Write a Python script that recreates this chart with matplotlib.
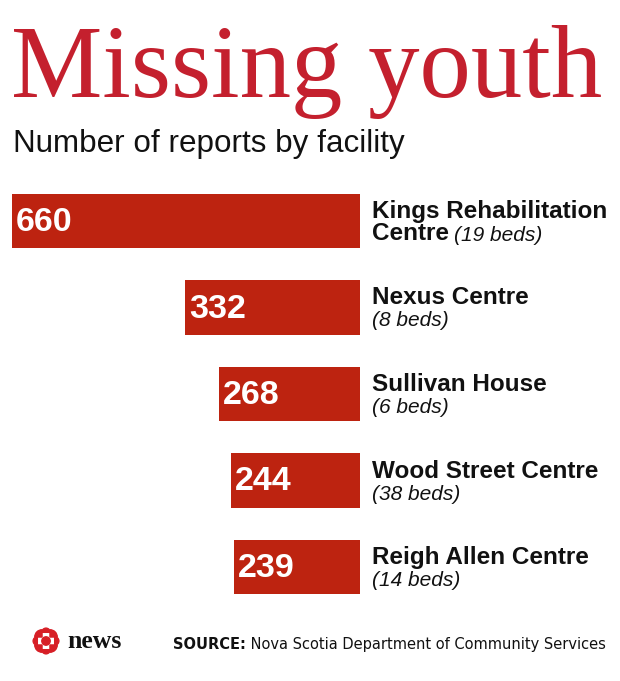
import math
import matplotlib
matplotlib.use("Agg")
import matplotlib.pyplot as plt
from matplotlib.patches import Circle, Wedge
from matplotlib.text import Annotation

# chart data
facilities = ["Kings Rehabilitation\nCentre", "Nexus Centre", "Sullivan House",
              "Wood Street Centre", "Reigh Allen Centre"]
reports = [660, 332, 268, 244, 239]
beds = [19, 8, 6, 38, 14]

title = "Missing youth"
subtitle = "Number of reports by facility"
source = "Nova Scotia Department of Community Services"

sans = "Liberation Sans"
bar_red = "#bd2310"
title_red = "#c4202e"
ink = "#111111"

W, H = 620, 681
fig = plt.figure(figsize=(W / 100, H / 100), dpi=100)
fig.patch.set_facecolor("white")


def fx(x):
    return x / W


def fy(y):
    return 1 - y / H


# title block
fig.text(fx(11), fy(97), title, family="Liberation Serif", fontsize=74,
         color=title_red, va="baseline", ha="left")
fig.text(fx(13), fy(152), subtitle, family=sans, fontsize=22.6,
         color=ink, va="baseline", ha="left")

# bars grow leftwards from a shared right edge
ax = fig.add_axes([fx(12), fy(610.25), 348 / W, 432.5 / H])
ypos = range(len(reports))
ax.barh(ypos, reports, height=0.625, color=bar_red)
ax.set_xlim(660, 0)
ax.set_ylim(4.5, -0.5)
ax.axis("off")

for i, (v, name, b) in enumerate(zip(reports, facilities, beds)):
    ax.annotate(str(v), xy=(v, i), xytext=(4, -10), textcoords="offset pixels",
                ha="left", va="baseline", color="white",
                fontweight="bold", fontsize=24.5, family=sans)
    lines = name.split("\n")
    ax.annotate(lines[0], xy=(0, i), xytext=(12, 3), textcoords="offset pixels",
                ha="left", va="baseline", color=ink,
                fontweight="bold", fontsize=17.5, family=sans,
                annotation_clip=False)
    bed_txt = f"({b} beds)"
    if len(lines) > 1:
        # second name line, with the bed count on the same line after it
        t2 = ax.annotate(lines[1], xy=(0, i), xytext=(12, -19),
                         textcoords="offset pixels", ha="left", va="baseline",
                         color=ink, fontweight="bold", fontsize=17.5,
                         family=sans, annotation_clip=False)
        ax.annotate(bed_txt, xy=(1, 0), xycoords=t2, xytext=(5, 0),
                    textcoords="offset pixels", ha="left", va="bottom",
                    color=ink, style="italic", fontsize=15, family=sans,
                    annotation_clip=False)
    else:
        ax.annotate(bed_txt, xy=(0, i), xytext=(12, -19),
                    textcoords="offset pixels", ha="left", va="baseline",
                    color=ink, style="italic", fontsize=15, family=sans,
                    annotation_clip=False)

# CBC gem logo
lax = fig.add_axes([fx(32), fy(655), 28 / W, 28 / H])
lax.set_xlim(-1, 1)
lax.set_ylim(-1, 1)
lax.set_aspect("equal")
lax.axis("off")
gem = "#d71f26"
lax.add_patch(Circle((0, 0), 0.3, color=gem))
for ang in (0, 90, 180, 270):
    cx, cy = 0.62 * math.cos(math.radians(ang)), 0.62 * math.sin(math.radians(ang))
    lax.add_patch(Wedge((cx, cy), 0.3, ang - 90, ang + 90, color=gem))
for ang in (45, 135, 225, 315):
    cx, cy = 0.4 * math.cos(math.radians(ang)), 0.4 * math.sin(math.radians(ang))
    lax.add_patch(Wedge((cx, cy), 0.52, ang - 45, ang + 45, color=gem))

fig.text(fx(67), fy(648), "news", family="Liberation Serif", fontweight="bold",
         fontsize=18.5, color=ink, va="baseline", ha="left")

# source line: bold prefix, then regular text right after it
src = fig.text(fx(173), fy(649), "SOURCE:", family="DejaVu Sans",
               fontweight="bold", fontsize=10.5, color=ink,
               va="baseline", ha="left")
fig.add_artist(Annotation(" " + source, xy=(1, 0), xycoords=src,
                          xytext=(0, 0), textcoords="offset pixels",
                          ha="left", va="bottom", family="DejaVu Sans",
                          fontsize=10.5, color=ink))

fig.savefig("out.png", dpi=100, facecolor="white")
